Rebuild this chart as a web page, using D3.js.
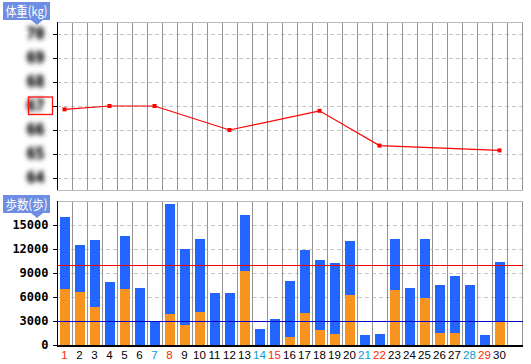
<!DOCTYPE html>
<html>
<head>
<meta charset="utf-8">
<script src="https://cdn.jsdelivr.net/npm/d3@7"></script>
<style>
  body { margin: 0; background: #fff; }
  svg { display: block; }
</style>
</head>
<body>
<svg width="531" height="364"></svg>
<script>
// data
const days = d3.range(1, 31);
const sundays = [1, 8, 15, 22, 29];
const saturdays = [7, 14, 21, 28];

const weightDays = [1, 4, 7, 12, 18, 22, 30];
const weights = [66.86, 67.0, 67.0, 66.0, 66.8, 65.35, 65.15];
const weightTicks = [70, 69, 68, 67, 66, 65, 64];
const weightMarked = 67;

const stepsTotal = [16000, 12500, 13125, 7875, 13625, 7125, 2950, 17625, 12000, 13250,
                    6500, 6500, 16250, 2000, 3250, 8000, 11875, 10625, 10250, 13000,
                    1250, 1375, 13250, 7125, 13250, 7500, 8625, 7500, 1250, 10375];
const stepsBrisk = [7000, 6625, 4750, 0, 7000, 0, 0, 3875, 2500, 4125,
                    0, 0, 9250, 0, 0, 1000, 4000, 1875, 1375, 6250,
                    0, 0, 6875, 0, 5875, 1500, 1500, 0, 0, 2875];
const stepTicks = [0, 3000, 6000, 9000, 12000, 15000];
const stepGoal = 10000;
const stepLow = 3000;

const svg = d3.select("svg");
const left = 57, right = 522;
const top1 = 22, bot1 = 190;
const top2 = 201, bot2 = 345;

const x = d3.scaleLinear().domain([0, 31]).range([left, right]);
const yW = d3.scaleLinear().domain([63.5, 70.5]).range([bot1, top1]);
const yS = d3.scaleLinear().domain([0, 18000]).range([bot2, top2]);

// blur filter standing in for the mosaic over the weight labels
const flt = svg.append("defs").append("filter").attr("id", "mosaic")
  .attr("x", "-50%").attr("y", "-60%").attr("width", "200%").attr("height", "220%");
flt.append("feGaussianBlur").attr("stdDeviation", 2.8);
flt.append("feComponentTransfer").append("feFuncA").attr("type", "linear").attr("slope", 1.8);

// panels: grid
function panel(y, yTop, yBot, ticks) {
  const g = svg.append("g").attr("shape-rendering", "crispEdges");
  g.selectAll("line.h").data(ticks).enter().append("line")
    .attr("x1", left).attr("x2", right)
    .attr("y1", d => Math.round(y(d)) + 0.5).attr("y2", d => Math.round(y(d)) + 0.5)
    .attr("stroke", "#c4c4c4").attr("stroke-dasharray", "4,3");
  g.selectAll("line.v").data(d3.range(1, 32)).enter().append("line")
    .attr("x1", d => x(d) + 0.5).attr("x2", d => x(d) + 0.5)
    .attr("y1", yTop).attr("y2", yBot)
    .attr("stroke", "#939393");
  g.append("line").attr("x1", left).attr("x2", right + 1)
    .attr("y1", yTop + 0.5).attr("y2", yTop + 0.5).attr("stroke", "#bbb");
  return g;
}

panel(yW, top1, bot1, weightTicks);
svg.append("line").attr("shape-rendering", "crispEdges")
  .attr("x1", left).attr("x2", right + 1).attr("y1", bot1 + 0.5).attr("y2", bot1 + 0.5)
  .attr("stroke", "#bbb");
panel(yS, top2, bot2, stepTicks.filter(d => d > 0));

// weight axis (labels are mosaicked in the source)
const axW = svg.append("g").attr("transform", `translate(${left + 0.5},0)`)
  .attr("shape-rendering", "crispEdges")
  .call(d3.axisLeft(yW).tickValues(weightTicks).tickFormat(d3.format("d"))
    .tickSize(5).tickPadding(8));
axW.select(".domain").attr("d", `M0,${top1}V${bot1}`).attr("stroke", "#000");
axW.selectAll(".tick text")
  .attr("font-family", "DejaVu Sans Mono").attr("font-weight", "bold").attr("font-size", 15)
  .attr("fill", "#555").attr("filter", "url(#mosaic)");

svg.append("rect")
  .attr("x", 28.5).attr("y", yW(weightMarked) - 9).attr("width", 24).attr("height", 17.5)
  .attr("fill", "none").attr("stroke", "#ff1010").attr("stroke-width", 1.3);

// weight line
const wData = weightDays.map((d, i) => ({day: d, v: weights[i]}));
svg.append("path").datum(wData)
  .attr("fill", "none").attr("stroke", "#ff0000").attr("stroke-width", 1.2)
  .attr("d", d3.line().x(d => x(d.day - 0.5)).y(d => yW(d.v)));
svg.selectAll("rect.wpt").data(wData).enter().append("rect")
  .attr("x", d => x(d.day - 0.5) - 2).attr("y", d => yW(d.v) - 2)
  .attr("width", 4).attr("height", 4).attr("fill", "#ff0000");

// step bars
const bars = svg.append("g").attr("shape-rendering", "crispEdges");
bars.selectAll("rect.total").data(days).enter().append("rect")
  .attr("x", d => x(d - 1) + 3).attr("width", 10)
  .attr("y", d => yS(stepsTotal[d - 1])).attr("height", d => yS(0) - yS(stepsTotal[d - 1]))
  .attr("fill", "#2266ff");
bars.selectAll("rect.brisk").data(days).enter().append("rect")
  .attr("x", d => x(d - 1) + 3).attr("width", 10)
  .attr("y", d => yS(stepsBrisk[d - 1])).attr("height", d => yS(0) - yS(stepsBrisk[d - 1]))
  .attr("fill", "#f7931e");

// goal lines
[[stepGoal, "#ee0000"], [stepLow, "#0000cc"]].forEach(([v, c]) => {
  svg.append("line").attr("shape-rendering", "crispEdges")
    .attr("x1", left).attr("x2", right + 1)
    .attr("y1", Math.round(yS(v)) + 0.5).attr("y2", Math.round(yS(v)) + 0.5)
    .attr("stroke", c).attr("stroke-width", 1);
});

// step axis
const axS = svg.append("g").attr("transform", `translate(${left + 0.5},0)`)
  .attr("shape-rendering", "crispEdges")
  .call(d3.axisLeft(yS).tickValues(stepTicks).tickFormat(d3.format("d"))
    .tickSize(5).tickPadding(4));
axS.select(".domain").attr("d", `M0,${top2}V${bot2}`).attr("stroke", "#000");
axS.selectAll(".tick text")
  .attr("font-family", "DejaVu Sans Mono").attr("font-weight", "bold").attr("font-size", 12)
  .attr("fill", "#000");

// bottom axis
svg.append("line").attr("shape-rendering", "crispEdges")
  .attr("x1", left).attr("x2", right + 1).attr("y1", bot2 + 1).attr("y2", bot2 + 1)
  .attr("stroke", "#000").attr("stroke-width", 2);
svg.selectAll("text.day").data(days).enter().append("text")
  .attr("x", d => x(d - 0.5)).attr("y", 359)
  .attr("text-anchor", "middle")
  .attr("font-family", "Liberation Sans").attr("font-size", 11.5)
  .attr("fill", d => sundays.includes(d) ? "#ff2a00" : saturdays.includes(d) ? "#0a9ad2" : "#000")
  .text(d => d);

// panel labels
function tag(y, label) {
  const g = svg.append("g");
  g.append("rect").attr("x", 3).attr("y", y).attr("width", 47).attr("height", 18)
    .attr("fill", "#6d8ee2");
  g.append("path").attr("d", `M31,${y + 18}L43,${y + 18}L37,${y + 23}Z`).attr("fill", "#6d8ee2");
  g.append("text").attr("x", 5.5).attr("y", y + 14)
    .attr("font-family", "Noto Sans CJK JP").attr("font-size", 13)
    .attr("textLength", 42).attr("lengthAdjust", "spacingAndGlyphs")
    .attr("fill", "#fff").text(label);
}
tag(2, "体重(kg)");
tag(195, "歩数(歩)");
</script>
</body>
</html>
